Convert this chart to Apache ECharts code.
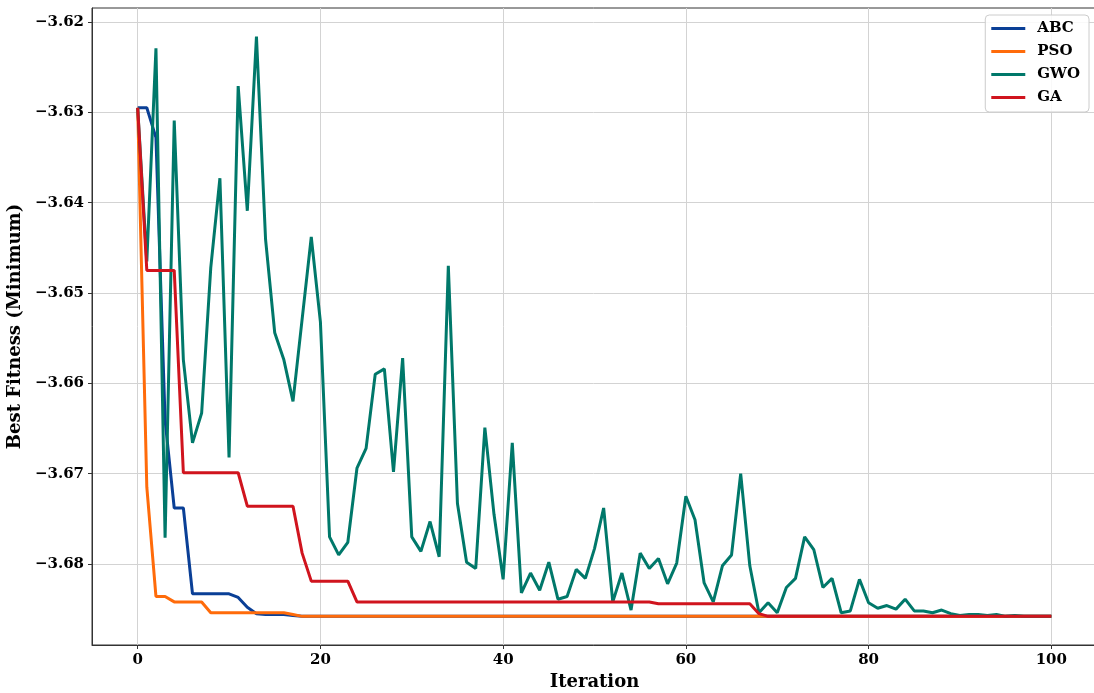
<!DOCTYPE html>
<html lang="en">
<head>
    <meta charset="UTF-8">
    <title>Convergence curves</title>
    <script src="https://cdn.jsdelivr.net/npm/echarts@6/dist/echarts.min.js"></script>
    <style>
        html, body { margin: 0; padding: 0; background: #fff; }
        #chart { width: 1094px; height: 693px; }
    </style>
</head>
<body>
<div id="chart"></div>
<script>
    // best fitness per iteration (0..100)
    const abc = [
        -3.6295, -3.6295, -3.6328, -3.6641, -3.6738, -3.6738, -3.6833, -3.6833, -3.6833, -3.6833,
        -3.6833, -3.6837, -3.6848, -3.6855, -3.6856, -3.6856, -3.6856, -3.6857, -3.6858, -3.6858,
        -3.6858, -3.6858, -3.6858, -3.6858, -3.6858, -3.6858, -3.6858, -3.6858, -3.6858, -3.6858,
        -3.6858, -3.6858, -3.6858, -3.6858, -3.6858, -3.6858, -3.6858, -3.6858, -3.6858, -3.6858,
        -3.6858, -3.6858, -3.6858, -3.6858, -3.6858, -3.6858, -3.6858, -3.6858, -3.6858, -3.6858,
        -3.6858, -3.6858, -3.6858, -3.6858, -3.6858, -3.6858, -3.6858, -3.6858, -3.6858, -3.6858,
        -3.6858, -3.6858, -3.6858, -3.6858, -3.6858, -3.6858, -3.6858, -3.6858, -3.6858, -3.6858,
        -3.6858, -3.6858, -3.6858, -3.6858, -3.6858, -3.6858, -3.6858, -3.6858, -3.6858, -3.6858,
        -3.6858, -3.6858, -3.6858, -3.6858, -3.6858, -3.6858, -3.6858, -3.6858, -3.6858, -3.6858,
        -3.6858, -3.6858, -3.6858, -3.6858, -3.6858, -3.6858, -3.6858, -3.6858, -3.6858, -3.6858,
        -3.6858
    ];
    const pso = [
        -3.6295, -3.6715, -3.6836, -3.6836, -3.6842, -3.6842, -3.6842, -3.6842, -3.6854, -3.6854,
        -3.6854, -3.6854, -3.6854, -3.6854, -3.6854, -3.6854, -3.6854, -3.6856, -3.6858, -3.6858,
        -3.6858, -3.6858, -3.6858, -3.6858, -3.6858, -3.6858, -3.6858, -3.6858, -3.6858, -3.6858,
        -3.6858, -3.6858, -3.6858, -3.6858, -3.6858, -3.6858, -3.6858, -3.6858, -3.6858, -3.6858,
        -3.6858, -3.6858, -3.6858, -3.6858, -3.6858, -3.6858, -3.6858, -3.6858, -3.6858, -3.6858,
        -3.6858, -3.6858, -3.6858, -3.6858, -3.6858, -3.6858, -3.6858, -3.6858, -3.6858, -3.6858,
        -3.6858, -3.6858, -3.6858, -3.6858, -3.6858, -3.6858, -3.6858, -3.6858, -3.6858, -3.6858,
        -3.6858, -3.6858, -3.6858, -3.6858, -3.6858, -3.6858, -3.6858, -3.6858, -3.6858, -3.6858,
        -3.6858, -3.6858, -3.6858, -3.6858, -3.6858, -3.6858, -3.6858, -3.6858, -3.6858, -3.6858,
        -3.6858, -3.6858, -3.6858, -3.6858, -3.6858, -3.6858, -3.6858, -3.6858, -3.6858, -3.6858,
        -3.6858
    ];
    const gwo = [
        -3.6295, -3.6465, -3.6229, -3.6771, -3.6309, -3.6574, -3.6666, -3.6633, -3.6472, -3.6373,
        -3.6682, -3.6271, -3.6409, -3.6216, -3.6441, -3.6544, -3.6574, -3.6620, -3.6529, -3.6438,
        -3.6532, -3.6770, -3.6790, -3.6776, -3.6694, -3.6672, -3.6590, -3.6584, -3.6698, -3.6572,
        -3.6770, -3.6786, -3.6753, -3.6792, -3.6470, -3.6733, -3.6798, -3.6805, -3.6649, -3.6745,
        -3.6817, -3.6666, -3.6832, -3.6810, -3.6829, -3.6798, -3.6839, -3.6836, -3.6806, -3.6816,
        -3.6783, -3.6738, -3.6842, -3.6810, -3.6851, -3.6788, -3.6805, -3.6794, -3.6822, -3.6799,
        -3.6725, -3.6751, -3.6821, -3.6842, -3.6802, -3.6790, -3.6700, -3.6802, -3.6854, -3.6843,
        -3.6854, -3.6826, -3.6816, -3.6770, -3.6784, -3.6826, -3.6816, -3.6854, -3.6852, -3.6817,
        -3.6843, -3.6849, -3.6846, -3.6850, -3.6839, -3.6852, -3.6852, -3.6854, -3.6851, -3.6855,
        -3.6857, -3.6856, -3.6856, -3.6857, -3.6856, -3.6858, -3.6857, -3.6858, -3.6858, -3.6858,
        -3.6858
    ];
    const ga = [
        -3.6295, -3.6475, -3.6475, -3.6475, -3.6475, -3.6699, -3.6699, -3.6699, -3.6699, -3.6699,
        -3.6699, -3.6699, -3.6736, -3.6736, -3.6736, -3.6736, -3.6736, -3.6736, -3.6788, -3.6819,
        -3.6819, -3.6819, -3.6819, -3.6819, -3.6842, -3.6842, -3.6842, -3.6842, -3.6842, -3.6842,
        -3.6842, -3.6842, -3.6842, -3.6842, -3.6842, -3.6842, -3.6842, -3.6842, -3.6842, -3.6842,
        -3.6842, -3.6842, -3.6842, -3.6842, -3.6842, -3.6842, -3.6842, -3.6842, -3.6842, -3.6842,
        -3.6842, -3.6842, -3.6842, -3.6842, -3.6842, -3.6842, -3.6842, -3.6844, -3.6844, -3.6844,
        -3.6844, -3.6844, -3.6844, -3.6844, -3.6844, -3.6844, -3.6844, -3.6844, -3.6855, -3.6858,
        -3.6858, -3.6858, -3.6858, -3.6858, -3.6858, -3.6858, -3.6858, -3.6858, -3.6858, -3.6858,
        -3.6858, -3.6858, -3.6858, -3.6858, -3.6858, -3.6858, -3.6858, -3.6858, -3.6858, -3.6858,
        -3.6858, -3.6858, -3.6858, -3.6858, -3.6858, -3.6858, -3.6858, -3.6858, -3.6858, -3.6858,
        -3.6858
    ];

    const xTicks = [0, 20, 40, 60, 80, 100];
    const yTicks = [-3.68, -3.67, -3.66, -3.65, -3.64, -3.63, -3.62];

    const names = ['ABC', 'PSO', 'GWO', 'GA'];
    const colors = ['#0a3f96', '#ff6b0a', '#00786a', '#d0141e'];
    const values = [abc, pso, gwo, ga];

    const font = "'DejaVu Serif', serif";

    const chart = echarts.init(document.getElementById('chart'));
    chart.setOption({
        animation: false,
        grid: {
            left: 92, top: 8, width: 1005, height: 637,
            outerBoundsMode: 'none',
            show: true, borderColor: '#333', borderWidth: 1
        },
        legend: {
            right: 5, top: 15,
            orient: 'vertical',
            icon: 'rect',
            itemWidth: 34, itemHeight: 3, itemGap: 8,
            padding: [6, 9, 7, 6],
            borderColor: '#ccc', borderWidth: 1, borderRadius: 4,
            backgroundColor: 'rgba(255,255,255,0.85)',
            textStyle: { fontFamily: font, fontWeight: 'bold', fontSize: 15, color: '#000', padding: [0, 0, 0, 7] },
            data: names
        },
        xAxis: {
            type: 'value', min: -5, max: 105,
            name: 'Iteration', nameLocation: 'middle', nameGap: 27,
            nameTextStyle: { fontFamily: font, fontWeight: 'bold', fontSize: 18, color: '#000' },
            axisLine: { show: true, onZero: false, lineStyle: { color: '#333' } },
            axisTick: { show: true, length: 4, customValues: xTicks, lineStyle: { color: '#333' } },
            axisLabel: { customValues: xTicks, fontFamily: font, fontWeight: 'bold', fontSize: 15, color: '#000', margin: 8 },
            splitLine: { show: true, lineStyle: { color: '#d3d3d3', width: 1 } }
        },
        yAxis: {
            type: 'value', min: -3.68897, max: -3.61845,
            name: 'Best Fitness (Minimum)', nameLocation: 'middle', nameGap: 62,
            nameTextStyle: { fontFamily: font, fontWeight: 'bold', fontSize: 18, color: '#000' },
            axisLine: { show: true, onZero: false, lineStyle: { color: '#333' } },
            axisTick: { show: true, length: 4, customValues: yTicks, lineStyle: { color: '#333' } },
            axisLabel: {
                customValues: yTicks, fontFamily: font, fontWeight: 'bold', fontSize: 15, color: '#000', margin: 8,
                formatter: v => '\u2212' + Math.abs(v).toFixed(2)
            },
            splitLine: { show: true, lineStyle: { color: '#d3d3d3', width: 1 } }
        },
        series: names.map((n, k) => ({
            name: n,
            type: 'line',
            symbol: 'none',
            color: colors[k],
            lineStyle: { width: 3, color: colors[k] },
            data: values[k].map((v, i) => [i, v])
        }))
    });
</script>
</body>
</html>
